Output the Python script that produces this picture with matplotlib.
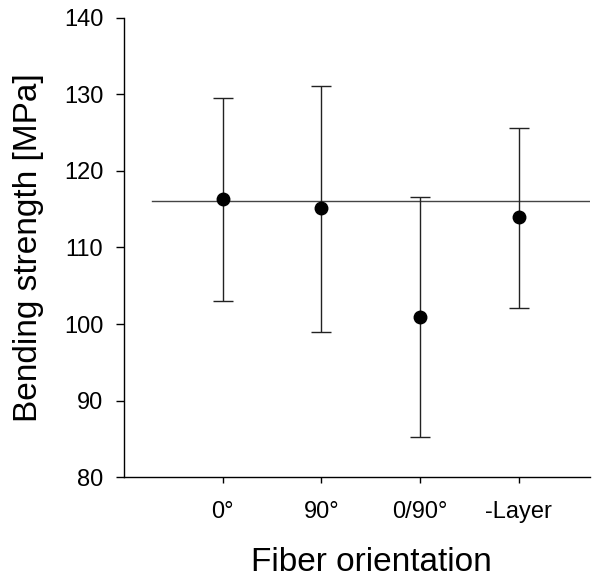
import matplotlib.pyplot as plt

plt.rcParams['font.family'] = ['Liberation Sans', 'DejaVu Sans']

# data
labels = ['0°', '90°', '0/90°', '-Layer']
means = [116.3, 115.1, 100.9, 113.95]
upper = [129.5, 131.15, 116.55, 125.65]
lower = [103.05, 98.9, 85.25, 102.1]
overall_mean = 116.1

x = [1, 2, 3, 4]
yerr = [[m - lo for m, lo in zip(means, lower)],
        [hi - m for m, hi in zip(means, upper)]]

fig = plt.figure(figsize=(6.1, 5.78), dpi=100)
ax = fig.add_axes([0.2033, 0.1747, 0.7637, 0.7942])

ax.plot([0.28, 4.72], [overall_mean, overall_mean], color='#444444', lw=1)
ax.errorbar(x, means, yerr=yerr, fmt='o', color='black', ecolor='#222222',
            elinewidth=1, capsize=7, capthick=1, markersize=9)

ax.set_xlim(0, 4.72)
ax.set_ylim(80, 140)
ax.set_yticks([80, 90, 100, 110, 120, 130, 140])
ax.set_xticks(x)
ax.set_xticklabels(labels)
ax.tick_params(labelsize=17, width=1, direction='out')
ax.tick_params(axis='x', length=4, pad=13)
ax.tick_params(axis='y', length=6, pad=9)

for s in ['top', 'right']:
    ax.spines[s].set_visible(False)
for s in ['left', 'bottom']:
    ax.spines[s].set_linewidth(1)

ax.set_xlabel('Fiber orientation', fontsize=24)
ax.set_ylabel('Bending strength [MPa]', fontsize=24)
ax.xaxis.set_label_coords(0.532, -0.152)
ax.yaxis.set_label_coords(-0.172, 0.5)

plt.savefig('out.png', dpi=100)
